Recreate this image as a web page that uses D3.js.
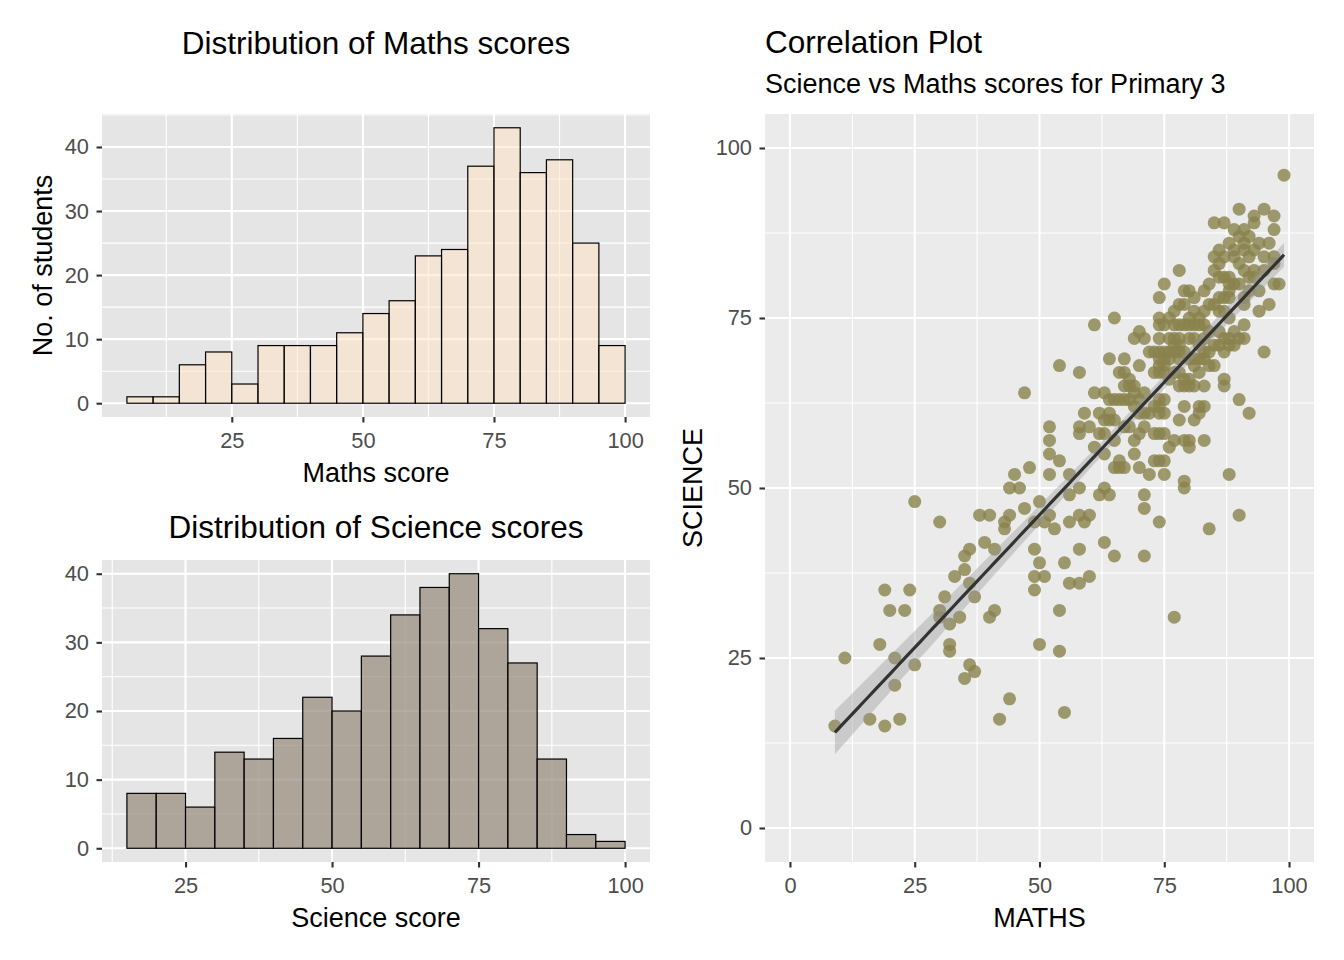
<!DOCTYPE html>
<html><head><meta charset="utf-8">
<script src="https://cdn.jsdelivr.net/npm/d3@7"></script>
<style>body{margin:0;background:#fff;} text{font-family:"Liberation Sans",Arial,sans-serif;}</style>
</head><body><svg id="c" width="1344" height="960"></svg>
<script>
// ---------- DATA ----------
const mathsBinEdges = [5,10,15,20,25,30,35,40,45,50,55,60,65,70,75,80,85,90,95,100];
const mathsCounts   = [1,1,6,8,3,9,9,9,11,14,16,23,24,37,43,36,38,25,9];
const scienceBinEdges = [15,20,25,30,35,40,45,50,55,60,65,70,75,80,85,90,95,100];
const scienceCounts   = [8,8,6,14,13,16,22,20,28,34,38,40,32,27,13,2,1];
const histXTicks = [25,50,75,100];
const countTicks = [0,10,20,30,40];
const scatterTicks = [0,25,50,75,100];
const titles = {
  maths: "Distribution of Maths scores",
  science: "Distribution of Science scores",
  corr: "Correlation Plot",
  corrSub: "Science vs Maths scores for Primary 3"
};
// [MATHS, SCIENCE] per student
const students = [
[9,15],[11,25],[16,16],[18,27],[19,35],[19,15],[20,32],[21,25],[21,21],[22,16],[23,32],[24,35],[25,24],[25,48],
[30,45],[30,32],[30,31],[31,34],[32,30],[32,27],[32,26],[33,37],[34,31],[35,40],[35,38],[35,22],
[36,41],[36,36],[36,24],[37,34],[37,23],[38,46],[39,42],[40,46],[40,31],
[41,41],[41,32],[42,16],[43,45],[43,44],[44,46],[44,50],[44,19],[45,52],
[46,50],[47,47],[47,64],[48,53],[49,45],[49,41],[49,37],[49,35],[50,48],[50,39],[50,27],
[51,45],[51,37],[52,46],[52,59],[52,57],[52,55],[52,52],[53,44],[54,68],[54,54],[54,32],[54,26],[55,39],[55,17],
[56,49],[56,52],[56,45],[56,36],[58,67],[58,59],[58,58],[58,50],[58,46],[58,41],[58,36],[59,61],[59,45],[60,59],[60,46],[60,37],
[61,74],[61,64],[61,56],[62,58],[62,49],[63,64],[63,60],[63,58],[63,55],[63,50],[63,42],[64,69],[64,61],[64,60],[64,49],[65,75],[65,63],[65,60],[65,57],[65,53],[65,40],[64,63],[62,61],
[66,67],[66,63],[66,54],[66,53],[67,69],[67,67],[67,65],[67,63],[67,59],[67,53],[68,66],[68,65],[68,63],[68,59],[69,72],[69,65],[69,64],[69,62],[69,57],[69,55],[70,73],[70,68],[70,63],[70,61],[70,58],[70,53],
[71,72],[71,64],[71,61],[71,59],[71,49],[71,47],[71,40],[72,70],[72,61],[72,52],[73,70],[73,67],[73,62],[73,58],[73,54],[74,75],[74,74],[74,72],[74,70],[74,69],[74,68],[74,67],[74,63],[74,62],[74,61],[74,58],[74,54],[74,45],[74,78],[75,80],[75,74],[75,70],[75,69],[75,68],[75,67],[75,63],[75,61],[75,58],[75,54],[75,52],
[76,72],[76,70],[76,69],[76,66],[76,56],[77,76],[77,72],[77,71],[77,70],[77,67],[77,57],[77,31],[78,82],[78,77],[78,72],[78,71],[78,70],[78,69],[78,67],[78,65],[78,60],[79,79],[79,77],[79,74],[79,66],[79,65],[79,62],[79,57],[79,51],[79,50],[80,79],[80,75],[80,74],[80,69],[80,66],[80,65],[80,57],[80,56],[77,74],[78,74],[76,75],[79,70],[80,72],
[81,78],[81,74],[81,69],[81,68],[81,65],[81,60],[82,75],[82,74],[82,69],[82,67],[82,62],[82,61],[83,79],[83,74],[83,70],[83,69],[83,65],[83,62],[83,57],[84,80],[84,68],[84,44],[85,89],[85,84],[85,82],[85,77],[85,71],[85,68],[81,72],[82,71],[83,72],[84,73],[84,77],[81,76],[83,76],[84,70],
[86,83],[86,81],[86,78],[86,76],[86,71],[87,89],[87,81],[87,78],[87,76],[87,72],[87,66],[87,65],[88,81],[88,80],[88,79],[88,78],[88,72],[88,71],[88,52],[89,85],[89,84],[89,80],[89,73],[89,71],[90,91],[90,87],[90,83],[90,80],[90,72],[90,63],[90,46],[86,85],[87,84],[88,86],[89,88],[86,73],[87,70],[88,75],
[91,88],[91,86],[91,85],[91,82],[91,78],[91,77],[91,74],[91,72],[92,84],[92,81],[92,79],[92,61],[93,90],[93,89],[93,82],[93,81],[94,79],[95,91],[95,84],[95,82],[95,70],[94,86],[92,87],[93,85],[94,76],
[96,77],[97,90],[97,88],[97,84],[97,83],[98,80],[99,96],[96,86],[97,80]
];

// ---------- DRAWING ----------
const svg = d3.select('#c');
const TICK_COL = '#4D4D4D', TICK_LINE = '#333333';

function makePanel(cfg){
  const {x0,x1,y0,y1,xDom,yDom,xMajor,yMajor,xMinor,yMinor,bg} = cfg;
  const x = d3.scaleLinear().domain(xDom).range([x0,x1]);
  const y = d3.scaleLinear().domain(yDom).range([y1,y0]);
  const g = svg.append('g');
  g.append('rect').attr('x',x0).attr('y',y0).attr('width',x1-x0).attr('height',y1-y0).attr('fill',bg);
  const inX = v => v>=xDom[0] && v<=xDom[1], inY = v => v>=yDom[0] && v<=yDom[1];
  g.selectAll('.xmin').data(xMinor.filter(inX)).join('line')
    .attr('x1',d=>x(d)).attr('x2',d=>x(d)).attr('y1',y0).attr('y2',y1).attr('stroke','#fff').attr('stroke-width',1.1);
  g.selectAll('.ymin').data(yMinor.filter(inY)).join('line')
    .attr('y1',d=>y(d)).attr('y2',d=>y(d)).attr('x1',x0).attr('x2',x1).attr('stroke','#fff').attr('stroke-width',1.1);
  g.selectAll('.xmaj').data(xMajor.filter(inX)).join('line')
    .attr('x1',d=>x(d)).attr('x2',d=>x(d)).attr('y1',y0).attr('y2',y1).attr('stroke','#fff').attr('stroke-width',2.1);
  g.selectAll('.ymaj').data(yMajor.filter(inY)).join('line')
    .attr('y1',d=>y(d)).attr('y2',d=>y(d)).attr('x1',x0).attr('x2',x1).attr('stroke','#fff').attr('stroke-width',2.1);
  return {x,y,g};
}

function drawAxes(p, cfg){
  const {x0,y1} = cfg;
  const ax = svg.append('g').attr('transform',`translate(0,${y1})`)
    .call(d3.axisBottom(p.x).tickValues(cfg.xMajor).tickSize(5.5).tickPadding(10.4).tickFormat(d3.format('d')));
  const ay = svg.append('g').attr('transform',`translate(${x0},0)`)
    .call(d3.axisLeft(p.y).tickValues(cfg.yMajor).tickSize(5.5).tickPadding(7.5).tickFormat(d3.format('d')));
  [ax,ay].forEach(a=>{
    a.select('.domain').remove();
    a.selectAll('line').attr('stroke',TICK_LINE).attr('stroke-width',2.1);
    a.selectAll('text').attr('fill',TICK_COL).attr('font-size',21.8)
      .attr('font-family','"Liberation Sans",Arial,sans-serif');
  });
}

function label(txt, x, y, size, anchor, rotate){
  const t = svg.append('text').text(txt).attr('font-size',size).attr('fill','#000')
    .attr('text-anchor',anchor||'middle');
  if(rotate){ t.attr('transform',`translate(${x},${y}) rotate(-90)`); }
  else { t.attr('x',x).attr('y',y); }
  return t;
}

function histogram(cfg){
  const {edges,counts,fill,alpha} = cfg;
  const lo = edges[0], hi = edges[edges.length-1], r = hi-lo;
  const maxC = d3.max(counts);
  cfg.xDom = [lo-0.05*r, hi+0.05*r];
  cfg.yDom = [-0.05*maxC, maxC*1.05];
  const p = makePanel(cfg);
  const bins = counts.map((c,i)=>({a:edges[i], b:edges[i+1], c}));
  p.g.selectAll('.bar').data(bins).join('rect')
    .attr('x',d=>p.x(d.a)).attr('width',d=>p.x(d.b)-p.x(d.a))
    .attr('y',d=>p.y(d.c)).attr('height',d=>p.y(0)-p.y(d.c))
    .attr('fill',fill).attr('fill-opacity',alpha).attr('stroke','#000').attr('stroke-width',1.2);
  drawAxes(p,cfg);
  return p;
}

// Maths histogram
const mathsCfg = {x0:102,x1:650,y0:114,y1:417,bg:'#E5E5E5',
  edges:mathsBinEdges,counts:mathsCounts,fill:'#FFE4C4',alpha:0.55,
  xMajor:histXTicks,yMajor:countTicks,xMinor:[12.5,37.5,62.5,87.5],yMinor:[5,15,25,35,45]};
histogram(mathsCfg);
label(titles.maths, 376, 53.5, 31.5);
label('Maths score', 376, 481.7, 27);
label('No. of students', 52, 265.5, 27, 'middle', true);

// Science histogram
const sciCfg = {x0:102,x1:650,y0:560,y1:862,bg:'#E5E5E5',
  edges:scienceBinEdges,counts:scienceCounts,fill:'#988C7D',alpha:0.72,
  xMajor:histXTicks,yMajor:countTicks,xMinor:[12.5,37.5,62.5,87.5],yMinor:[5,15,25,35,45]};
histogram(sciCfg);
label(titles.science, 376, 538, 31.5);
label('Science score', 376, 926.5, 27);

// Scatter
const scCfg = {x0:765,x1:1314,y0:114,y1:862,bg:'#EBEBEB',
  xDom:[-5,105],yDom:[-5,105],xMajor:scatterTicks,yMajor:scatterTicks,
  xMinor:[12.5,37.5,62.5,87.5],yMinor:[12.5,37.5,62.5,87.5]};
const sp = makePanel(scCfg);
sp.g.selectAll('.pt').data(students).join('circle')
  .attr('cx',d=>sp.x(d[0])).attr('cy',d=>sp.y(d[1])).attr('r',6.5)
  .attr('fill','#89824C').attr('fill-opacity',0.8);

// linear regression + 95% CI
const n = students.length;
const mx = d3.mean(students,d=>d[0]), my = d3.mean(students,d=>d[1]);
const sxx = d3.sum(students,d=>(d[0]-mx)**2), sxy = d3.sum(students,d=>(d[0]-mx)*(d[1]-my));
const b1 = sxy/sxx, b0 = my - b1*mx;
const s = Math.sqrt(d3.sum(students,d=>(d[1]-b0-b1*d[0])**2)/(n-2));
const tq = 1.967;
const [xmin,xmax] = d3.extent(students,d=>d[0]);
const xs = d3.range(80).map(i=>xmin+(xmax-xmin)*i/79);
const fit = xs.map(xv=>{const yh=b0+b1*xv, se=s*Math.sqrt(1/n+(xv-mx)**2/sxx); return {xv,yh,lo:yh-tq*se,hi:yh+tq*se};});
sp.g.append('path').datum(fit)
  .attr('d',d3.area().x(d=>sp.x(d.xv)).y0(d=>sp.y(d.lo)).y1(d=>sp.y(d.hi)))
  .attr('fill','#999999').attr('fill-opacity',0.4);
sp.g.append('path').datum(fit)
  .attr('d',d3.line().x(d=>sp.x(d.xv)).y(d=>sp.y(d.yh)))
  .attr('fill','none').attr('stroke','#333333').attr('stroke-width',3.2);
drawAxes(sp, scCfg);
label(titles.corr, 765, 53.3, 31.5, 'start');
svg.append('text').text(titles.corrSub).attr('x',765).attr('y',93.3).attr('font-size',27).attr('fill','#000');
label('MATHS', 1039.5, 926.5, 27);
label('SCIENCE', 702, 488, 27, 'middle', true);
</script></body></html>
